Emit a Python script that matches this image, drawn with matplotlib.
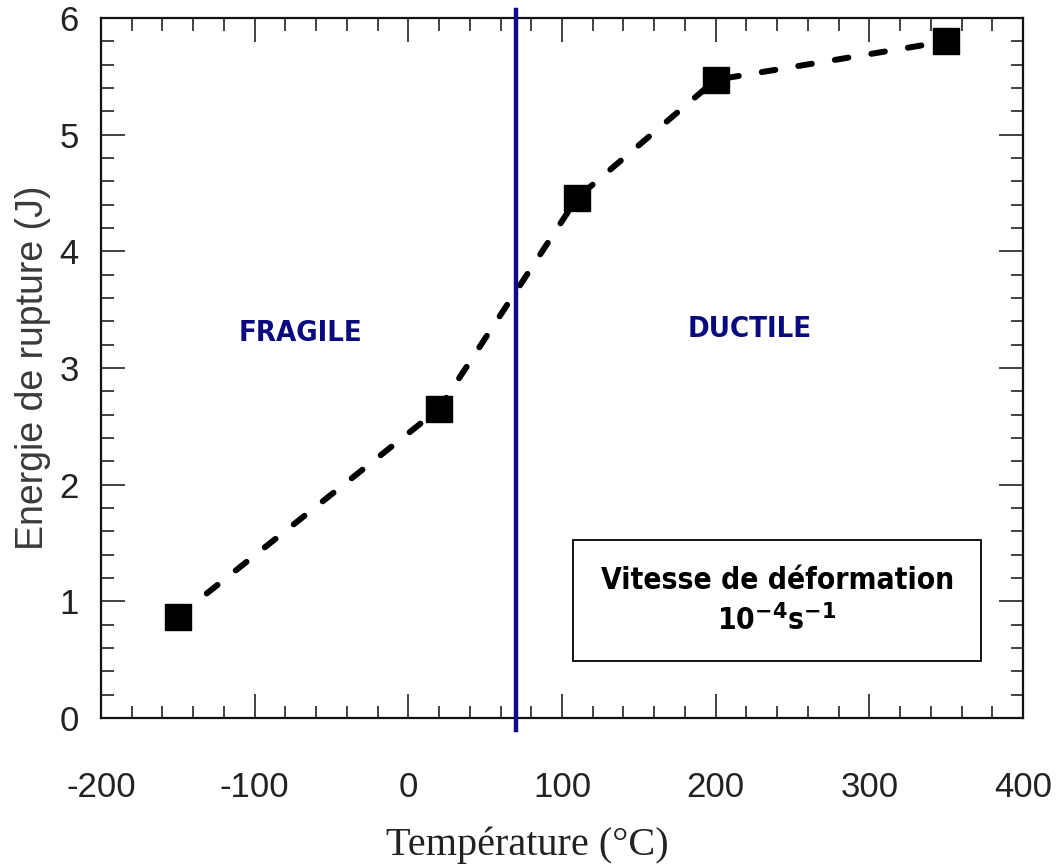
import matplotlib
matplotlib.use("Agg")
import matplotlib.pyplot as plt
from matplotlib.ticker import MultipleLocator
from matplotlib.patches import Rectangle

# Data
temperature = [-150, 20, 110, 200, 350]
energy = [0.87, 2.65, 4.46, 5.47, 5.80]
transition_temp = 70
x_ticks = [-200, -100, 0, 100, 200, 300, 400]
y_ticks = [0, 1, 2, 3, 4, 5, 6]
xlabel = "Température (°C)"
ylabel = "Energie de rupture (J)"
region_labels = ["FRAGILE", "DUCTILE"]
box_line1 = "Vitesse de déformation"

plt.rcParams['mathtext.fontset'] = 'dejavusans'
plt.rcParams['axes.unicode_minus'] = False

fig = plt.figure(figsize=(10.56, 8.68), dpi=100)
ax = fig.add_axes([0.0956, 0.1728, 0.8732, 0.8065])

ax.plot(temperature, energy, color='black', lw=4.3, ls=(0, (2.3, 3.9)),
        dash_capstyle='round', marker='s', markersize=18.5,
        markerfacecolor='black', markeredgecolor='black', zorder=3)

ax.axvline(transition_temp, ymin=-0.017, ymax=1.012, color='#0c0c8a', lw=3.2,
           clip_on=False, zorder=4)

ax.set_xlim(-200, 400)
ax.set_ylim(0, 6)
ax.set_xticks(x_ticks)
ax.set_yticks(y_ticks)
ax.xaxis.set_minor_locator(MultipleLocator(20))
ax.yaxis.set_minor_locator(MultipleLocator(0.2))

ax.tick_params(which='both', direction='in', top=True, right=True, width=1.2, color='#222222')
ax.tick_params(which='major', length=17)
ax.tick_params(which='minor', length=9)
ax.tick_params(axis='x', which='major', pad=38, labelsize=25, labelcolor='#222222')
ax.tick_params(axis='y', which='major', pad=16, labelsize=25, labelcolor='#222222')
for lab in ax.get_xticklabels() + ax.get_yticklabels():
    lab.set_fontfamily('Liberation Sans')

for sp in ax.spines.values():
    sp.set_linewidth(1.6)
    sp.set_color('#111111')

ax.set_xlabel(xlabel, fontfamily='Liberation Serif', fontsize=29, color='#222222', labelpad=20)
ax.xaxis.set_label_coords(0.462, -0.155)
ax.set_ylabel(ylabel, fontfamily='Liberation Sans', fontsize=27, color='#3a3a3a', labelpad=6)

ax.text(-70, 3.3, region_labels[0], ha='center', va='center', color='#0a0a80',
        fontsize=21, fontweight='bold', family='DejaVu Sans', fontstretch='condensed')
ax.text(222, 3.33, region_labels[1], ha='center', va='center', color='#0a0a80',
        fontsize=21, fontweight='bold', family='DejaVu Sans', fontstretch='condensed')

ax.add_patch(Rectangle((107, 0.49), 265.5, 1.035, fill=False, edgecolor='black', lw=1.3, zorder=5))
ax.text(240, 1.18, box_line1, ha='center', va='center', color='black',
        fontsize=21.5, fontweight='bold', family='DejaVu Sans', fontstretch='condensed')
ax.text(240, 0.84, r"10$^{\mathbf{-4}}$s$^{\mathbf{-1}}$", ha='center', va='center', color='black',
        fontsize=21.5, fontweight='bold', family='DejaVu Sans', fontstretch='condensed')

fig.savefig("out.png", dpi=100, facecolor='white')
